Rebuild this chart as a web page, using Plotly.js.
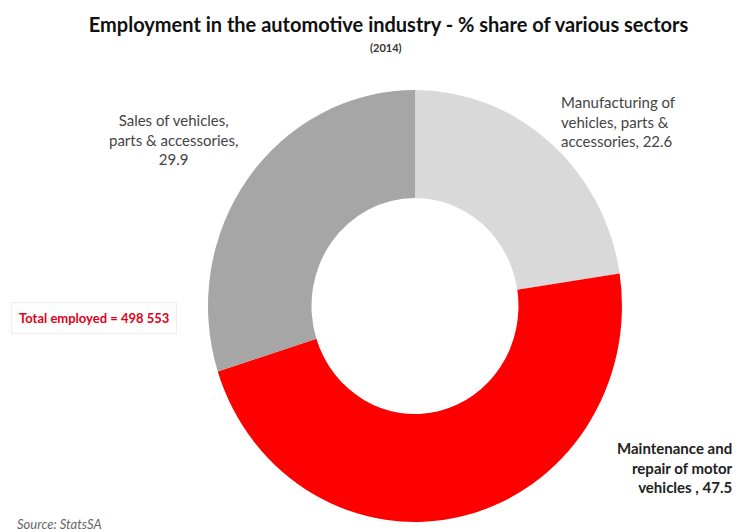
<!DOCTYPE html>
<html>
<head>
<meta charset="utf-8">
<script src="https://cdn.plot.ly/plotly-3.0.1.min.js"></script>
<style>html,body{margin:0;padding:0;background:#fff;}#chart{width:740px;height:532px;}</style>
</head>
<body>
<div id="chart"></div>
<script>
const sectors = ["Manufacturing of vehicles, parts & accessories", "Maintenance and repair of motor vehicles", "Sales of vehicles, parts & accessories"];
const shares = [22.6, 47.5, 29.9];
const sliceColors = ["#d9d9d9", "#ff0000", "#a6a6a6"];
const labelTexts = ["Manufacturing of<br>vehicles, parts &<br>accessories, 22.6", "<b>Maintenance and<br>repair of motor<br>vehicles , 47.5</b>", "Sales of vehicles,<br>parts & accessories,<br>29.9"];
const totalEmployed = "498 553";

const domY = [0.0357, 0.8139];
const trace = {
  type: "pie",
  labels: sectors,
  values: shares,
  hole: 0.5,
  sort: false,
  direction: "clockwise",
  rotation: 0,
  textinfo: "none",
  hoverinfo: "label+value",
  marker: {colors: sliceColors, line: {width: 0}},
  domain: {x: [0.2811, 0.8405], y: domY},
  showlegend: false
};

const font = "Lato, 'Open Sans', sans-serif";
function ann(text, x, y, size, color, align, extra) {
  return Object.assign({text: text, x: x, y: y, xref: "paper", yref: "paper", xanchor: "center", yanchor: "middle",
    showarrow: false, align: align || "center", font: {family: font, size: size, color: color}}, extra || {});
}
const layout = {
  width: 740, height: 532,
  margin: {l: 0, r: 0, t: 0, b: 0},
  paper_bgcolor: "#ffffff",
  title: {text: "<b>Employment in the automotive industry - % share of various sectors</b>", x: 0.525, xanchor: "center", y: 0.953, yanchor: "middle", font: {family: font, size: 20, color: "#111"}},
  annotations: [
    ann("<b>(2014)</b>", 0.522, 0.91, 11, "#333"),
    ann(labelTexts[0], 0.836, 0.771, 15, "#444", "left"),
    ann(labelTexts[1], 0.912, 0.122, 15, "#222", "right"),
    ann(labelTexts[2], 0.235, 0.737, 15, "#444", "center"),
    ann("<b>Total employed = " + totalEmployed + "</b>", 0.127, 0.402, 13, "#e0001a", "center", {bordercolor: "#fbeaea", borderwidth: 1, borderpad: 7}),
    ann("<i>Source: StatsSA</i>", 0.02, 0.015, 13, "#666", "left", {xanchor: "left"})
  ]
};

Plotly.newPlot("chart", [trace], layout, {displayModeBar: false, staticPlot: true}).then(function(gd) {
  // reference donut is slightly stretched vertically (ellipse); stretch the pie layer only
  const cy = 532 * (1 - (domY[0] + domY[1]) / 2);
  const sy = 1.0435;
  const layer = gd.querySelector(".pielayer");
  if (layer) {
    layer.setAttribute("transform", "translate(0," + cy + ") scale(1," + sy + ") translate(0," + (-cy) + ")");
  }
});
</script>
</body>
</html>
